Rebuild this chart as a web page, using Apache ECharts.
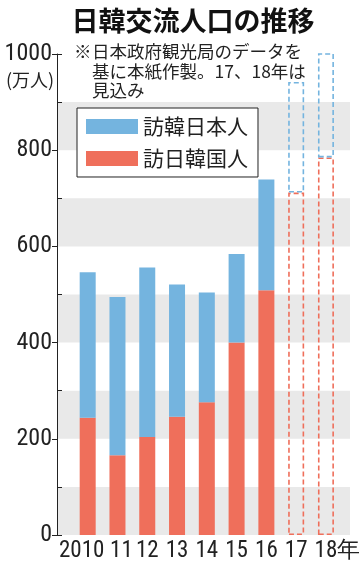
<!DOCTYPE html>
<html>
<head>
<meta charset="utf-8">
<script src="https://cdn.jsdelivr.net/npm/echarts@6/dist/echarts.min.js"></script>
<style>
html,body{margin:0;padding:0;background:#fff;}
#c{width:363px;height:565px;}
</style>
</head>
<body>
<div id="c"></div>
<script>
// ---- data ----
var categories = ['2010', '11', '12', '13', '14', '15', '16', '17', '18年'];
var koreansToJapan = [244, 166, 204, 246, 276, 400, 509, '-', '-'];   // 訪日韓国人
var japaneseToKorea = [302, 329, 352, 275, 228, 184, 230, '-', '-'];  // 訪韓日本人
var koreansToJapanProj = ['-', '-', '-', '-', '-', '-', '-', 712, 785];
var japaneseToKoreaProj = ['-', '-', '-', '-', '-', '-', '-', 230, 217];
var yMin = 0, yMax = 1000;

var BLUE = '#74b4df', RED = '#ef6f5b';
var NUMFONT = '"Roboto Condensed", "Liberation Sans", sans-serif';
var JP = '"Noto Sans CJK JP", sans-serif';

var chart = echarts.init(document.getElementById('c'), null, {renderer: 'canvas'});
var gridTop = 54, gridBottom = 30;
var pxPerUnit = (565 - gridTop - gridBottom) / (yMax - yMin);

function xLabel(v) {
  if (v === '2010') return '2010{p| }';
  if (v === '11') return '{q| }11';
  if (v.indexOf('年') >= 0) return '{p2| }' + v.replace('年', '') + '年';
  return v;
}

var option = {
  backgroundColor: '#fff',
  animation: false,
  title: [
    {text: '日韓交流人口の推移', left: 188, textAlign: 'center', top: 2,
     textStyle: {fontFamily: JP, fontWeight: 'bold', fontSize: 27, color: '#111'}},
    {text: '※', left: 69, top: 37,
     textStyle: {fontFamily: JP, fontWeight: 'normal', fontSize: 17.5, color: '#222', lineHeight: 19.5}},
    {text: '日本政府観光局のデータを\n基に本紙作製。17、18年は\n見込み', left: 87, top: 37,
     textStyle: {fontFamily: JP, fontWeight: 'normal', fontSize: 17.5, color: '#222', lineHeight: 19.5}},
    {text: '(万人)', left: 1, top: 66,
     textStyle: {fontFamily: JP, fontWeight: 'normal', fontSize: 18, color: '#222'}}
  ],
  legend: {
    data: ['訪韓日本人', '訪日韓国人'],
    orient: 'vertical',
    left: 77, top: 108,
    itemWidth: 52, itemHeight: 15, itemGap: 11,
    padding: [8, 10, 8, 9],
    borderColor: '#222', borderWidth: 1, backgroundColor: '#fff',
    icon: 'rect',
    textStyle: {fontFamily: JP, fontSize: 21, color: '#222'}
  },
  grid: [
    {left: 57, right: 13, top: gridTop, bottom: gridBottom},
    {left: 72.8, right: 16.8, top: gridTop, bottom: gridBottom},
    {left: 57, right: 13, top: gridTop + 100 * pxPerUnit, bottom: gridBottom + 100 * pxPerUnit}
  ],
  xAxis: [
    {gridIndex: 0, type: 'category', data: categories, show: false},
    {gridIndex: 1, type: 'category', data: categories,
     axisLine: {show: false}, axisTick: {show: false},
     axisLabel: {fontFamily: NUMFONT, fontSize: 23, color: '#222', margin: 5, interval: 0,
       formatter: xLabel,
       rich: {
         p: {width: 12, fontSize: 23, fontFamily: NUMFONT},
         q: {width: 8, fontSize: 23, fontFamily: NUMFONT},
         p2: {width: 23, fontSize: 23, fontFamily: NUMFONT}
       }}},
    {gridIndex: 2, type: 'category', data: categories, show: false}
  ],
  yAxis: [
    {gridIndex: 0, type: 'value', min: yMin, max: yMax, interval: 100, position: 'left',
     axisLine: {show: true, lineStyle: {color: '#222', width: 1}},
     axisTick: {show: false},
     splitLine: {show: false},
     splitArea: {show: true, areaStyle: {color: ['#e9e9e9', 'rgba(255,255,255,0)']}},
     axisLabel: {fontFamily: NUMFONT, fontSize: 24, color: '#222', margin: 5,
       formatter: function (v) { return v % 200 === 0 ? String(v) : ''; }}},
    {gridIndex: 0, type: 'value', min: yMin, max: yMax, interval: 200, position: 'left',
     axisLine: {show: false}, splitLine: {show: false}, axisLabel: {show: false},
     axisTick: {show: true, length: 5, lineStyle: {color: '#222'}}},
    {gridIndex: 0, type: 'value', min: yMin, max: yMax, interval: 1000, position: 'left',
     axisLine: {show: false}, splitLine: {show: false}, axisLabel: {show: false},
     axisTick: {show: true, inside: true, length: 5, lineStyle: {color: '#222'}}},
    {gridIndex: 1, type: 'value', min: yMin, max: yMax, show: false, splitLine: {show: false}},
    {gridIndex: 2, type: 'value', min: 100, max: 900, interval: 200, position: 'left',
     axisLine: {show: false}, splitLine: {show: false}, axisLabel: {show: false},
     axisTick: {show: true, inside: true, length: 5, lineStyle: {color: '#222'}}}
  ],
  series: [
    {name: '訪日韓国人', type: 'bar', xAxisIndex: 1, yAxisIndex: 3, stack: 'a', barWidth: 16,
     data: koreansToJapan, itemStyle: {color: RED}},
    {name: '訪韓日本人', type: 'bar', xAxisIndex: 1, yAxisIndex: 3, stack: 'a', barWidth: 16,
     data: japaneseToKorea, itemStyle: {color: BLUE}},
    {name: '訪日韓国人見込み', type: 'bar', xAxisIndex: 1, yAxisIndex: 3, stack: 'a', barWidth: 16,
     data: koreansToJapanProj,
     itemStyle: {color: 'rgba(255,255,255,0)', borderColor: RED, borderWidth: 1.6, borderType: [5, 3]}},
    {name: '訪韓日本人見込み', type: 'bar', xAxisIndex: 1, yAxisIndex: 3, stack: 'a', barWidth: 16,
     data: japaneseToKoreaProj,
     itemStyle: {color: 'rgba(255,255,255,0)', borderColor: BLUE, borderWidth: 1.6, borderType: [5, 3]}}
  ]
};
chart.setOption(option);
</script>
</body>
</html>
